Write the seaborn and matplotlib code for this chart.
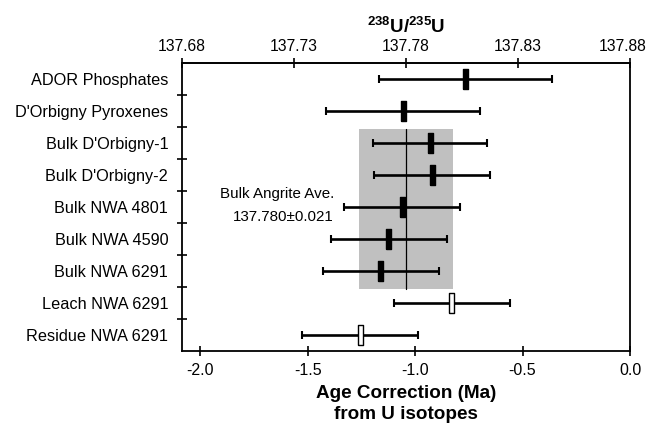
import numpy as np
import pandas as pd
import matplotlib
matplotlib.use("Agg")
import matplotlib.pyplot as plt
import matplotlib.transforms as mtransforms
import seaborn as sns

# Datos
muestras = ["ADOR Phosphates", "D'Orbigny Pyroxenes", "Bulk D'Orbigny-1",
            "Bulk D'Orbigny-2", "Bulk NWA 4801", "Bulk NWA 4590",
            "Bulk NWA 6291", "Leach NWA 6291", "Residue NWA 6291"]
correccion = [-0.764, -1.056, -0.930, -0.921, -1.060, -1.122, -1.160, -0.829, -1.256]
error = [0.402, 0.358, 0.264, 0.270, 0.270, 0.269, 0.270, 0.271, 0.270]
tipo = ["relleno"] * 7 + ["abierto"] * 2

ratio_ticks = [137.68, 137.73, 137.78, 137.83, 137.88]
age_ticks = [-2.0, -1.5, -1.0, -0.5, 0.0]
prom_ratio = 137.780
prom_error = 0.021

XMIN, XMAX = -2.084, 0.0


def a_ratio(x):
    return ratio_ticks[0] + (np.asarray(x) - XMIN) / (XMAX - XMIN) * (ratio_ticks[-1] - ratio_ticks[0])


def a_edad(r):
    return XMIN + (np.asarray(r) - ratio_ticks[0]) / (ratio_ticks[-1] - ratio_ticks[0]) * (XMAX - XMIN)


sns.set_theme(style="ticks")
plt.rcParams["font.family"] = ["Liberation Sans", "DejaVu Sans"]
plt.rcParams.update({"text.color": "black", "axes.labelcolor": "black",
                     "xtick.color": "black", "ytick.color": "black",
                     "mathtext.fontset": "custom",
                     "mathtext.rm": "Liberation Sans",
                     "mathtext.bf": "Liberation Sans:bold"})

df = pd.DataFrame({"muestra": muestras, "x": correccion, "err": error, "tipo": tipo})
df["y"] = np.arange(len(df))

fig = plt.figure(figsize=(6.51, 4.25), dpi=100)
ax = fig.add_axes([0.2796, 0.1741, 0.6882, 0.6777])

# caja gris del promedio de angritas
x0 = a_edad(prom_ratio - prom_error)
x1 = a_edad(prom_ratio + prom_error)
ax.fill_between([x0, x1], 1.56, 6.55, color="#c0c0c0", lw=0, zorder=0)
ax.plot([a_edad(prom_ratio)] * 2, [1.56, 6.55], color="black", lw=0.9, zorder=1)

ax.errorbar(df["x"], df["y"], xerr=df["err"], fmt="none", ecolor="black",
            elinewidth=1.9, capsize=3.2, capthick=1.5, zorder=2)

rect = [(-0.13, -0.5), (0.13, -0.5), (0.13, 0.5), (-0.13, 0.5), (-0.13, -0.5)]
sns.scatterplot(data=df, x="x", y="y", hue="tipo", palette={"relleno": "black", "abierto": "white"},
                marker=rect, s=190, edgecolor="black", linewidth=1.0, legend=False, ax=ax, zorder=3)

ax.text(-1.377, 3.59, "Bulk Angrite Ave.", ha="right", va="center", fontsize=10.9)
ax.text(-1.377, 4.31, "137.780\u00b10.021", ha="right", va="center", fontsize=10.9)

ax.set_xlim(XMIN, XMAX)
ax.set_ylim(8.5, -0.5)
ax.set_xticks(age_ticks)
ax.set_xticklabels([f"{t:.1f}" for t in age_ticks], fontsize=11.5)
ax.set_yticks(df["y"])
ax.set_yticklabels(muestras, fontsize=11.7)
ax.set_yticks(np.arange(0.5, len(df) - 1, 1.0), minor=True)
ax.tick_params(axis="y", which="major", length=0, pad=10)
ax.tick_params(axis="y", which="minor", direction="inout", length=7, width=1.2)
ax.tick_params(axis="x", direction="inout", length=7, width=1.2, pad=5)
ax.set_xlabel("Age Correction (Ma)\nfrom U isotopes", fontsize=13.6, fontweight="bold",
              linespacing=1.3, labelpad=5)
ax.set_ylabel("")
for s in ax.spines.values():
    s.set_visible(True)
    s.set_linewidth(1.3)
    s.set_color("black")

sec = ax.secondary_xaxis("top", functions=(a_ratio, a_edad))
sec.set_xticks(ratio_ticks)
sec.set_xticklabels([f"{t:.2f}" for t in ratio_ticks], fontsize=11.3)
sec.tick_params(direction="inout", length=7, width=1.2, pad=3)
sec.spines["top"].set_linewidth(1.3)
sec.set_xlabel(r"$\mathbf{^{238}U/^{235}U}$", fontsize=13.5, labelpad=4)
# la ultima etiqueta queda pegada al borde: correrla un poco a la izquierda
ultima = sec.get_xticklabels()[-1]
ultima.set_transform(ultima.get_transform() + mtransforms.ScaledTranslation(-5 / 72, 0, fig.dpi_scale_trans))

fig.savefig("out.png", dpi=100)
